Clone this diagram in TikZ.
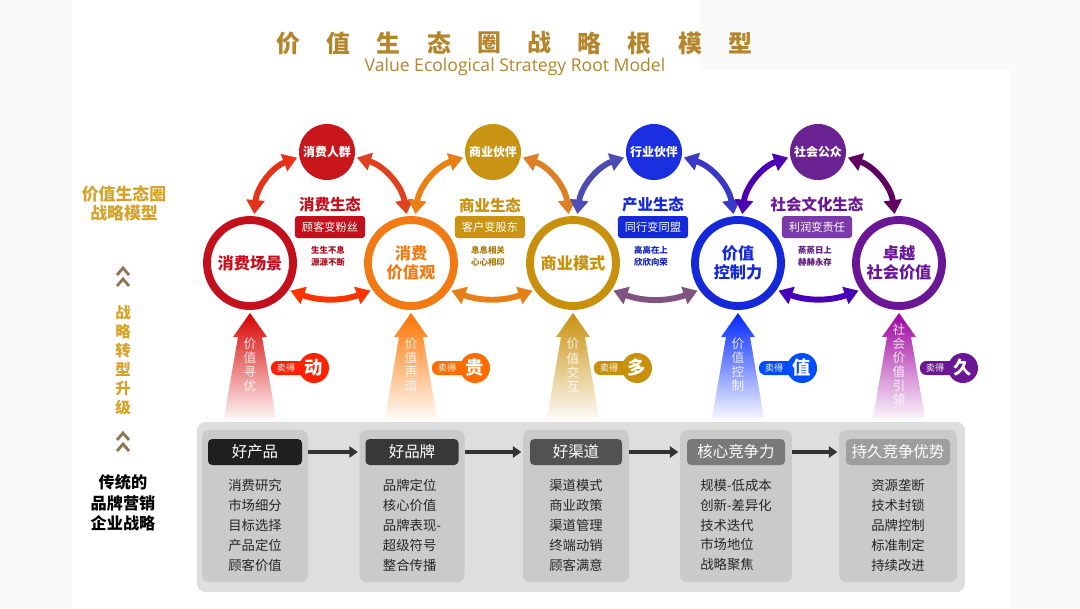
\documentclass[tikz,border=0pt]{standalone}
\usepackage{fontspec}
\setmainfont{Noto Sans CJK SC}
\newfontfamily\latinfont{Open Sans}
\usetikzlibrary{arrows.meta}

\definecolor{cTitle}{HTML}{B5852C}
\definecolor{cGold}{HTML}{D6A228}
\definecolor{cChev}{HTML}{8C7656}
\definecolor{cRed}{HTML}{C2111D}
\definecolor{cOrange}{HTML}{F27A14}
\definecolor{cAmber}{HTML}{C8900C}
\definecolor{cBlue}{HTML}{1529D8}
\definecolor{cPurple}{HTML}{6A1696}
\definecolor{cHubRed}{HTML}{C8161C}
\definecolor{cHubGold}{HTML}{C99414}
\definecolor{cHubBlue}{HTML}{1C2FE0}
\definecolor{cHubPurple}{HTML}{6A2292}
\definecolor{cTagPurple}{HTML}{7A3AA8}
\definecolor{cPanel}{HTML}{DEDEDE}
\definecolor{cColumn}{HTML}{CACACA}

\begin{document}
\begin{tikzpicture}[x=0.025cm, y=-0.025cm]
    \tikzstyle{ring} = [circle, line width=5.6pt, fill=white, inner sep=0pt, minimum size=2.15cm, align=center, font=\fontsize{11.5}{14}\selectfont\bfseries]
    \tikzstyle{hub} = [circle, inner sep=0pt, minimum size=1.4cm, text=white, font=\fontsize{8.5}{10}\selectfont\bfseries]
    \tikzstyle{link} = [line width=4.2pt, {Triangle[length=10pt,width=12.5pt]}-{Triangle[length=10pt,width=12.5pt]}, shorten <=1.5pt, shorten >=1.5pt]
    \tikzstyle{ecotitle} = [font=\fontsize{11}{13}\selectfont\bfseries]
    \tikzstyle{ecotag} = [rectangle, rounded corners=2pt, minimum width=1.75cm, minimum height=0.55cm, inner sep=1pt, text=white, font=\fontsize{8}{10}\selectfont]
    \tikzstyle{motto} = [align=center, font=\fontsize{6}{8.5}\selectfont\bfseries]
    \tikzstyle{uptext} = [align=center, text=white, text opacity=0.85, font=\fontsize{9}{10}\selectfont]
    \tikzstyle{badge} = [circle, inner sep=0pt, minimum size=0.75cm, text=white, font=\fontsize{13}{13}\selectfont\bfseries]
    \tikzstyle{sold} = [text=white, font=\fontsize{6.5}{7}\selectfont]
    \tikzstyle{column} = [rectangle, rounded corners=5pt, fill=cColumn, minimum height=3.8cm]
    \tikzstyle{header} = [rectangle, rounded corners=3pt, minimum height=0.65cm, text=white, font=\fontsize{11}{12}\selectfont]
    \tikzstyle{items} = [align=left, text=black!85, font=\fontsize{9.5}{14.2}\selectfont]
    \tikzstyle{flow} = [line width=3pt, black!80, -{Triangle[length=6pt,width=8pt]}, shorten >=1pt]
    \tikzstyle{side} = [align=center, font=\fontsize{11.5}{14.5}\selectfont\bfseries]
    \tikzstyle{chev} = [cChev, line width=2pt]

    % slide
    \useasboundingbox (0,0) rectangle (1080,608);
    \fill[white] (0,0) rectangle (1080,608);
    \fill[gray!5] (0,0) rectangle (72,608);
    \fill[gray!4] (1010,0) rectangle (1080,608);
    \fill[gray!4] (700,0) rectangle (1080,70);

    % title
    \foreach \i/\c in {0/价,1/值,2/生,3/态,4/圈,5/战,6/略,7/根,8/模,9/型} {
        \node[text=cTitle, font=\fontsize{17}{18}\selectfont\bfseries] (title\i) at (288.5+\i*50.2, 43) {\c};
    }
    \node[text=cTitle, font=\latinfont\fontsize{12.5}{14}\selectfont] (subtitle) at (515, 67) {Value Ecological Strategy Root Model};

    % left side
    \node[side, text=cGold, font=\fontsize{12}{13.5}\selectfont\bfseries] (model) at (124, 203) {价值生态圈\\战略模型};
    \node[side, text=cGold, font=\fontsize{11}{13.5}\selectfont\bfseries] (upgrade) at (123, 360) {战\\略\\转\\型\\升\\级};
    \node[side, text=black] (legacy) at (123, 503) {传统的\\品牌营销\\企业战略};
    \foreach \y in {268, 279, 433, 444} {
        \draw[chev] (117, \y+7) -- (123, \y) -- (129, \y+7);
    }

    % rings
    \foreach \nm/\x/\col/\txt in {
        scene/250/cRed/消费场景,
        value/411/cOrange/消费\\价值观,
        mode/573/cAmber/商业模式,
        ctrl/738/cBlue/价值\\控制力,
        social/899/cPurple/卓越\\社会价值%
    } {
        \node[ring, draw=\col, text=\col] (\nm) at (\x, 263) {\txt};
    }

    % hubs
    \foreach \nm/\x/\col/\txt in {
        crowd/327/cHubRed/消费人群,
        partner/493/cHubGold/商业伙伴,
        peer/654/cHubBlue/行业伙伴,
        public/818/cHubPurple/社会公众%
    } {
        \node[hub, fill=\col] (\nm) at (\x, 152) {\txt};
    }

    % links
    \foreach \a/\h/\b/\ca/\cb/\cc in {
        scene/crowd/value/red!60!brown/red!50!brown/red!60!orange,
        value/partner/mode/orange!65!brown/orange!45!brown/orange!60!brown,
        mode/peer/ctrl/gray!60!blue/blue!55!gray/violet!35!gray,
        ctrl/public/social/violet!60!blue/violet!75!black/violet!55!blue%
    } {
        \draw[link, \ca] (\a.85) to[bend left=32] (\h.190);
        \draw[link, \cb] (\h.-10) to[bend left=32] (\b.95);
        \draw[link, \cc] (\a.-35) to[bend right=20] (\b.-145);
    }

    % ecologies
    \foreach \i/\x/\col/\tag/\eco/\slogan/\la/\lb in {
        1/330/cRed/cRed/消费生态/顾客变粉丝/生生不息/源源不断,
        2/490/cAmber/cHubGold/商业生态/客户变股东/息息相关/心心相印,
        3/653/cBlue/cBlue/产业生态/同行变同盟/高高在上/欣欣向荣,
        4/817/cPurple/cTagPurple/社会文化生态/利润变责任/蒸蒸日上/赫赫永存%
    } {
        \node[ecotitle, text=\col] (eco\i) at (\x, 205) {\eco};
        \node[ecotag, fill=\tag] (tag\i) at (\x, 227) {\slogan};
        \node[motto, text=\col!85!black] (motto\i) at (\x-2, 256) {\la\\\lb};
    }

    % upward arrows
    \foreach \i/\x/\col/\txt in {
        1/250/red!85!black/价\\值\\寻\\优,
        2/411/orange!90!red/价\\值\\再\\造,
        3/573/cAmber/价\\值\\交\\互,
        4/738/blue!85!cyan/价\\值\\控\\制,
        5/899/violet!75!magenta/社\\会\\价\\值\\引\\领%
    } {
        \shade[top color=\col, middle color=\col!92!white, bottom color=\col!4!white]
            (\x, 313) -- (\x+17, 337) -- (\x+12, 337) -- (\x+26, 418) -- (\x-26, 418) -- (\x-12, 337) -- (\x-17, 337) -- cycle;
        \node[uptext] (way\i) at (\x, 365) {\txt};
    }

    % badges
    \foreach \i/\x/\col/\ch in {
        1/250/red!75!orange/动,
        2/411/orange!85!red/贵,
        3/573/cAmber/多,
        4/738/blue!70!cyan/值,
        5/899/cPurple/久%
    } {
        \fill[\col, rounded corners=4.5pt] (\x+21, 361) rectangle (\x+60, 375);
        \node[sold] (sold\i) at (\x+36, 368) {卖得};
        \node[badge, fill=\col] (gain\i) at (\x+64, 368) {\ch};
    }

    % bottom panel
    \fill[cPanel, rounded corners=6pt] (197, 422) rectangle (965, 592);
    \foreach \i/\x/\w/\hw/\hc/\head/\list in {
        1/255/106/94/black!88/好产品/消费研究\\市场细分\\目标选择\\产品定位\\顾客价值,
        2/412/105/93/black!78/好品牌/品牌定位\\核心价值\\品牌表现-\\超级符号\\整合传播,
        3/576/106/92/black!68/好渠道/渠道模式\\商业政策\\渠道管理\\终端动销\\顾客满意,
        4/736/112/98/black!52/核心竞争力/规模-低成本\\创新-差异化\\技术迭代\\市场地位\\战略聚焦,
        5/898/118/104/black!38/持久竞争优势/资源垄断\\技术封锁\\品牌控制\\标准制定\\持续改进%
    } {
        \node[column, minimum width=\w*0.025cm] (col\i) at (\x, 506) {};
        \node[header, fill=\hc, minimum width=\hw*0.025cm] (head\i) at (\x, 452) {\head};
        \node[items] (list\i) at (\x, 525) {\list};
    }
    \foreach \i/\j in {1/2, 2/3, 3/4, 4/5} {
        \draw[flow] (col\i.east |- head\i) -- (col\j.west |- head\j);
    }
\end{tikzpicture}
\end{document}
